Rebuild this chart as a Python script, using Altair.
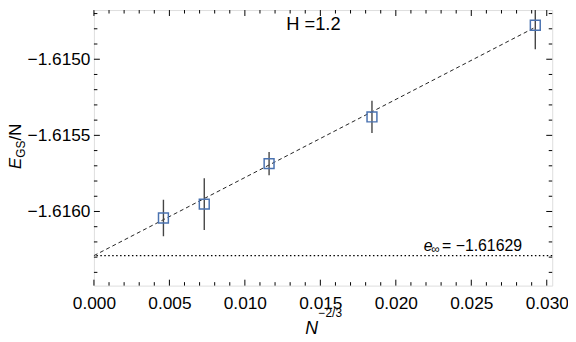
import altair as alt
import pandas as pd

# ---- data ----
n_inv23 = [0.004605, 0.007310, 0.011604, 0.018420, 0.029240]
e_gs = [-1.616043, -1.615952, -1.615686, -1.615379, -1.614777]
e_err = [0.000120, 0.000170, 0.000076, 0.000106, 0.000158]
fit_x = [0.0, 0.02924]
fit_y = [-1.61629, -1.61479]
e_inf = -1.61629
x_major = [0.000, 0.005, 0.010, 0.015, 0.020, 0.025, 0.030]
x_minor = [0.001, 0.002, 0.003, 0.004, 0.006, 0.007, 0.008, 0.009, 0.011, 0.012,
           0.013, 0.014, 0.016, 0.017, 0.018, 0.019, 0.021, 0.022, 0.023, 0.024,
           0.026, 0.027, 0.028, 0.029]
y_major = [-1.6160, -1.6155, -1.6150]
y_minor = [-1.6164, -1.6163, -1.6162, -1.6161, -1.6159, -1.6158, -1.6157, -1.6156,
           -1.6154, -1.6153, -1.6152, -1.6151, -1.6149, -1.6148, -1.6147]
x_domain = [0.0, 0.03036]
y_domain = [-1.616487, -1.614677]
title_text = "H =1.2"
einf_text = "= \u22121.61629"

FONT = "Liberation Sans"
LBL = 17.5

xs = alt.Scale(domain=x_domain, nice=False, zero=False)
ys = alt.Scale(domain=y_domain, nice=False, zero=False)
xaxis = alt.Axis(values=x_major, format=".3f", ticks=False, domain=False, grid=False,
                 labelFontSize=LBL, labelPadding=9, labelFont=FONT, labelColor="black",
                 labelFlush=False, labelOverlap=False)
yaxis = alt.Axis(values=y_major, format=".4f", ticks=False, domain=False, grid=False,
                 labelFontSize=LBL, labelPadding=4, labelFont=FONT, labelColor="black",
                 labelFlush=False, labelOverlap=False)


def X(f="x"):
    return alt.X(f, type="quantitative", scale=xs, axis=xaxis, title=None)


def Y(f="y"):
    return alt.Y(f, type="quantitative", scale=ys, axis=yaxis, title=None)


pts = pd.DataFrame({
    "x": n_inv23,
    "y": e_gs,
    "lo": [v - e for v, e in zip(e_gs, e_err)],
    "hi": [v + e for v, e in zip(e_gs, e_err)],
})
fit = pd.DataFrame({"x": fit_x, "y": fit_y})

inf_line = alt.Chart(pd.DataFrame({"y": [e_inf]})).mark_rule(
    color="black", strokeWidth=1.2, strokeDash=[1.5, 2.5]
).encode(y=Y())

fit_line = alt.Chart(fit).mark_line(
    color="#222222", strokeWidth=1, strokeDash=[4, 3]
).encode(x=X(), y=Y())

err = alt.Chart(pts).mark_rule(color="#444444", strokeWidth=1.4, clip=True).encode(
    x=X(), y=Y("lo"), y2="hi"
)

squares = alt.Chart(pts).mark_point(
    shape="square", filled=False, size=100, stroke="#4a72b0", strokeWidth=1.5,
    opacity=1, clip=True
).encode(x=X(), y=Y())


def tick_layer(xv, yv, horizontal, length, sign):
    df = pd.DataFrame({"x": xv, "y": yv})
    if horizontal:
        m = alt.Chart(df).mark_rule(color="black", strokeWidth=1, x2Offset=sign * length)
        return m.encode(x=X(), x2="x", y=Y())
    m = alt.Chart(df).mark_rule(color="black", strokeWidth=1, y2Offset=sign * length)
    return m.encode(x=X(), y=Y(), y2="y")


ymin, ymax = y_domain
xmin, xmax = x_domain
ticks = [
    tick_layer(x_major, [ymin] * len(x_major), False, 6, -1),
    tick_layer(x_minor, [ymin] * len(x_minor), False, 3.5, -1),
    tick_layer(x_major, [ymax] * len(x_major), False, 6, 1),
    tick_layer(x_minor, [ymax] * len(x_minor), False, 3.5, 1),
    tick_layer([xmin] * len(y_major), y_major, True, 6, 1),
    tick_layer([xmin] * len(y_minor), y_minor, True, 3.5, 1),
    tick_layer([xmax] * len(y_major), y_major, True, 6, -1),
    tick_layer([xmax] * len(y_minor), y_minor, True, 3.5, -1),
]


def data_text(text, xv, yv, size, style="normal", dx=0, dy=0, align="left"):
    return alt.Chart(pd.DataFrame({"x": [xv], "y": [yv], "t": [text]})).mark_text(
        font=FONT, fontSize=size, fontStyle=style, align=align, baseline="alphabetic",
        dx=dx, dy=dy, color="black"
    ).encode(x=X(), y=Y(), text="t:N")


def px_text(text, xv, yv, size, style="normal", dx=0, dy=0, angle=0):
    return alt.Chart(pd.DataFrame({"t": [text]})).mark_text(
        font=FONT, fontSize=size, fontStyle=style, align="left", baseline="alphabetic",
        dx=dx, dy=dy, angle=angle, color="black"
    ).encode(x=alt.value(xv), y=alt.value(yv), text="t:N")


ann_x = 0.021854
texts = [
    data_text(title_text, 0.014539, -1.614807, 18.5, align="center"),
    data_text("e", ann_x, e_inf, 16, style="italic", dy=-4.6),
    data_text("\u221e", ann_x, e_inf, 12, dx=7.6, dy=-2.2),
    data_text(einf_text, ann_x, e_inf, 16, dx=18.5, dy=-4.6),
    # y title: E_GS/N (rotated)
    px_text("E", -73.5, 161, 17, style="italic", angle=270),
    px_text("GS", -73.5, 161, 12, dx=11.5, dy=3.5, angle=270),
    px_text("/N", -73.5, 161, 17, dx=29, angle=270),
    # x title: N^-2/3
    px_text("N", 214.0, 328, 18, style="italic"),
    px_text("\u22122/3", 227.5, 311, 12),
]

chart = alt.layer(inf_line, fit_line, err, squares, *ticks, *texts).properties(
    width=464, height=279,
    autosize=alt.AutoSizeParams(type="none"),
    padding={"left": 87, "top": 0, "right": 16, "bottom": 55},
).configure_view(stroke="black", strokeWidth=1).configure(background="white")

chart.save("out.html", embed_options={"renderer": "svg", "actions": False})
